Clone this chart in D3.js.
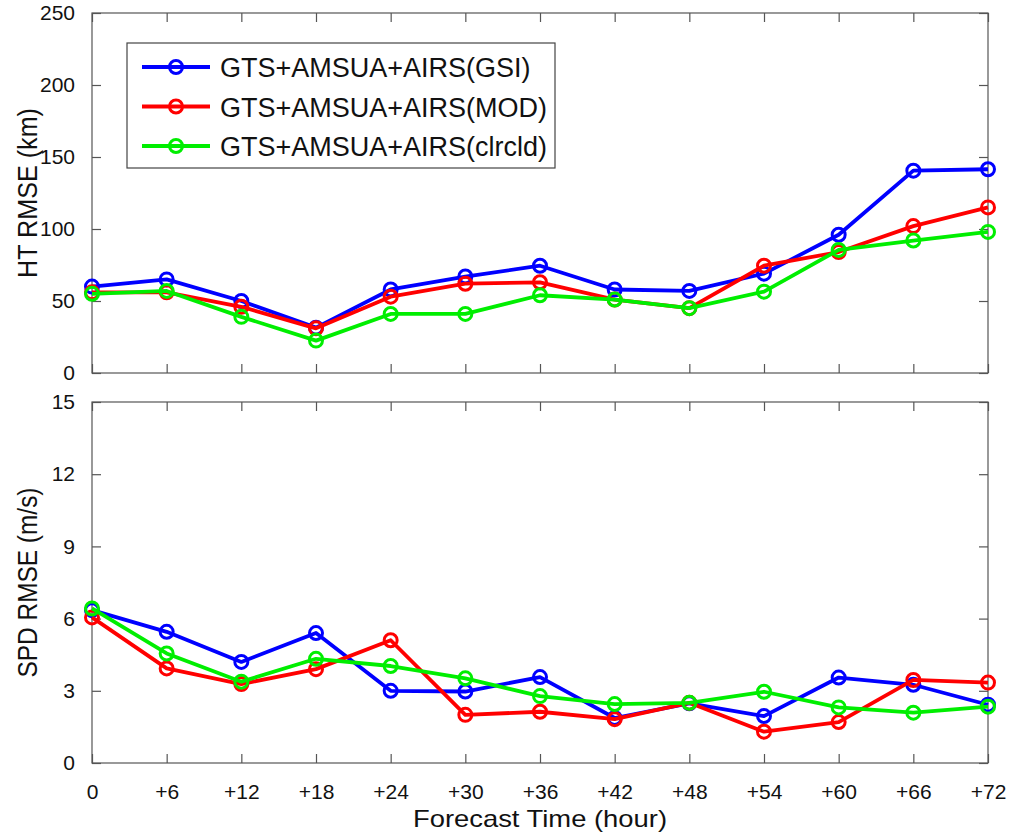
<!DOCTYPE html>
<html>
<head>
<meta charset="utf-8">
<script src="https://cdn.jsdelivr.net/npm/d3@7"></script>
<style>
  body { margin: 0; background: #fff; }
  svg text { font-family: "Liberation Sans", Arial, sans-serif; fill: #111; }
</style>
</head>
<body>
<svg id="chart" width="1010" height="835"></svg>
<script>
// forecast hours
var hours = [0, 6, 12, 18, 24, 30, 36, 42, 48, 54, 60, 66, 72];
var hourLabels = ["0", "+6", "+12", "+18", "+24", "+30", "+36", "+42", "+48", "+54", "+60", "+66", "+72"];

var seriesNames = ["GTS+AMSUA+AIRS(GSI)", "GTS+AMSUA+AIRS(MOD)", "GTS+AMSUA+AIRS(clrcld)"];
var seriesColors = ["#0000ff", "#ff0000", "#00ee00"];

// track error (km)
var htGSI    = [60, 65, 50, 31.5, 58, 67, 74.5, 58, 57, 69, 96, 140.5, 141.5];
var htMOD    = [56, 56, 46, 31, 53, 62, 63, 51, 45, 74.5, 84, 102, 115];
var htClrcld = [55, 57, 39, 22.5, 41, 41, 54, 51, 45, 56.5, 85.5, 92, 98];

// speed error (m/s)
var spdGSI    = [6.35, 5.45, 4.2, 5.4, 3.0, 2.97, 3.57, 1.87, 2.48, 1.95, 3.55, 3.25, 2.42];
var spdMOD    = [6.05, 3.93, 3.28, 3.9, 5.1, 2.0, 2.13, 1.82, 2.5, 1.3, 1.7, 3.45, 3.34];
var spdClrcld = [6.42, 4.55, 3.38, 4.33, 4.03, 3.52, 2.78, 2.45, 2.5, 2.96, 2.31, 2.09, 2.34];

var htTicks = [0, 50, 100, 150, 200, 250];
var spdTicks = [0, 3, 6, 9, 12, 15];

var svg = d3.select("#chart");

var left = 92, right = 988;
var x = d3.scaleLinear().domain([0, 72]).range([left, right]);

function panel(top, bottom, maxY, ticks, label, labelLen, data, showX) {
    var y = d3.scaleLinear().domain([0, maxY]).range([bottom, top]);
    var g = svg.append("g");

    // frame
    g.append("rect")
        .attr("x", left).attr("y", top)
        .attr("width", right - left).attr("height", bottom - top)
        .attr("fill", "none").attr("stroke", "#555").attr("stroke-width", 1.2);

    // inward ticks on all four sides
    var tl = 9;
    var yAxis = d3.axisLeft(y).tickValues(ticks).tickSize(-tl).tickPadding(tl + 8).tickFormat(d3.format("d"));
    var yAxisR = d3.axisRight(y).tickValues(ticks).tickSize(-tl).tickFormat("");
    var xAxis = d3.axisBottom(x).tickValues(hours).tickSize(-tl).tickPadding(tl + 12)
        .tickFormat(function(d, i) { return showX ? hourLabels[i] : ""; });
    var xAxisT = d3.axisTop(x).tickValues(hours).tickSize(-tl).tickFormat("");

    var ya = g.append("g").attr("transform", "translate(" + left + ",0)").call(yAxis);
    g.append("g").attr("transform", "translate(" + right + ",0)").call(yAxisR);
    var xa = g.append("g").attr("transform", "translate(0," + bottom + ")").call(xAxis);
    g.append("g").attr("transform", "translate(0," + top + ")").call(xAxisT);

    g.selectAll(".domain").remove();
    g.selectAll(".tick line").attr("stroke", "#555").attr("stroke-width", 1.2);
    ya.selectAll("text").style("font-size", "21px").attr("fill", "#111");
    xa.selectAll("text").style("font-size", "21px").attr("fill", "#111");

    g.append("text")
        .attr("transform", "translate(28," + ((top + bottom) / 2) + ") rotate(-90)")
        .attr("text-anchor", "middle")
        .attr("dominant-baseline", "central")
        .attr("textLength", labelLen)
        .attr("lengthAdjust", "spacingAndGlyphs")
        .style("font-size", "27px")
        .text(label);

    var line = d3.line()
        .x(function(d, i) { return x(hours[i]); })
        .y(function(d) { return y(d); });

    data.forEach(function(vals, k) {
        g.append("path")
            .datum(vals)
            .attr("d", line)
            .attr("fill", "none")
            .attr("stroke", seriesColors[k])
            .attr("stroke-width", 3.8)
            .attr("stroke-linejoin", "round");
        g.selectAll(".pt" + k)
            .data(vals)
            .enter().append("circle")
            .attr("cx", function(d, i) { return x(hours[i]); })
            .attr("cy", function(d) { return y(d); })
            .attr("r", 6.5)
            .attr("fill", "none")
            .attr("stroke", seriesColors[k])
            .attr("stroke-width", 3);
    });
    return g;
}

panel(13, 373, 250, htTicks, "HT RMSE (km)", 170, [htGSI, htMOD, htClrcld], false);
panel(402, 763, 15, spdTicks, "SPD RMSE (m/s)", 190, [spdGSI, spdMOD, spdClrcld], true);

svg.append("text")
    .attr("x", 540)
    .attr("y", 827)
    .attr("text-anchor", "middle")
    .attr("textLength", 254)
    .attr("lengthAdjust", "spacingAndGlyphs")
    .style("font-size", "24px")
    .text("Forecast Time (hour)");

// legend
var lg = svg.append("g");
lg.append("rect")
    .attr("x", 127).attr("y", 43)
    .attr("width", 428).attr("height", 125)
    .attr("fill", "#fff").attr("stroke", "#444").attr("stroke-width", 1.2);

var legendY = d3.scalePoint().domain(seriesNames).range([67, 146]);
seriesNames.forEach(function(name, k) {
    var yy = legendY(name);
    lg.append("line")
        .attr("x1", 142).attr("x2", 210)
        .attr("y1", yy).attr("y2", yy)
        .attr("stroke", seriesColors[k]).attr("stroke-width", 3.8);
    lg.append("circle")
        .attr("cx", 176).attr("cy", yy).attr("r", 6.5)
        .attr("fill", "none").attr("stroke", seriesColors[k]).attr("stroke-width", 3);
    lg.append("text")
        .attr("x", 220).attr("y", yy + 10)
        .style("font-size", "27px")
        .text(name);
});
</script>
</body>
</html>
